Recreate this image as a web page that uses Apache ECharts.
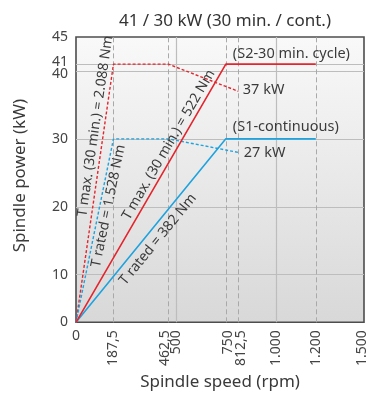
<!DOCTYPE html>
<html><head><meta charset="utf-8">
<script src="https://cdn.jsdelivr.net/npm/echarts@6/dist/echarts.min.js"></script>
<style>html,body{margin:0;padding:0;background:#fff}#c{width:387px;height:396px}</style>
</head><body><div id="c"></div>
<script>
// ---------- data ----------
const chartTitle = '41 / 30 kW (30 min. / cont.)';
const xName = 'Spindle speed (rpm)';
const yName = 'Spindle power (kW)';
const xTicks = [0, 187.5, 462.5, 500, 750, 812.5, 1000, 1200, 1500];
const xTickLabels = ['0', '187,5', '462,5', '500', '750', '812,5', '1.000', '1.200', '1.500'];
const xSolidGrid = [500, 1000];
const xDashedGrid = [187.5, 462.5, 750, 812.5, 1200];
const yTicks = [0, 10, 20, 30, 40, 41, 45];
const yTickLabels = ['0', '10', '20', '30', '40', '41', '45'];
const yGrid = [10, 20, 30, 40, 41];
const s2Speed = [0, 750, 1200];
const s2Power = [0, 41, 41];
const s1Speed = [0, 750, 1200];
const s1Power = [0, 30, 30];
const tmaxSpeed = [0, 187.5, 462.5, 812.5];
const tmaxPower = [0, 41, 41, 37];
const tratedSpeed = [0, 187.5, 462.5, 812.5];
const tratedPower = [0, 30, 30, 28];

// ---------- style / layout ----------
const RED = '#e4252d', BLUE = '#1ea3de', TXT = '#3b3b3b';
const FONT = '"Noto Sans", sans-serif';
// the original's axes are schematic (compressed 0-10 kW band, compressed 1200-1500 rpm band)
function xMap(v) { return v <= 1200 ? v : 1200 + (v - 1200) * 0.805; }
function yMap(v) { return v <= 10 ? v * 0.702 : 7.02 + (v - 10); }
function pts(xs, ys) { return xs.map((x, i) => [xMap(x), yMap(ys[i])]); }
function idxOf(val, ticks, map) {
  let best = 0, d = Infinity;
  ticks.forEach((t, i) => { const dd = Math.abs(map(t) - val); if (dd < d) { d = dd; best = i; } });
  return best;
}
const xShift = { '462,5': -3, '750': 2, '812,5': 3, '1.500': -2 };
const yShift = { '41': -2, '40': 3 };
const base = { fontFamily: FONT, fontSize: 14, color: '#444' };
const xRich = {
  n: Object.assign({}, base),
  m3: Object.assign({ padding: [0, 0, 6, 0] }, base),
  m2: Object.assign({ padding: [0, 0, 4, 0] }, base),
  p2: Object.assign({ padding: [4, 0, 0, 0] }, base),
  p3: Object.assign({ padding: [6, 0, 0, 0] }, base)
};
function xRichKey(s) { if (!s) return 'n'; return (s < 0 ? 'm' : 'p') + Math.abs(s); }
const yRich = {
  n: Object.assign({}, base),
  up: Object.assign({ padding: [0, 0, 4, 0] }, base),
  dn: Object.assign({ padding: [6, 0, 0, 0] }, base)
};

const chart = echarts.init(document.getElementById('c'), null, { renderer: 'canvas' });
const gridLines = []
  .concat(yGrid.map(v => ({ yAxis: yMap(v), lineStyle: { color: '#bdbdbd', type: 'solid', width: 1.2 } })))
  .concat(xSolidGrid.map(v => ({ xAxis: xMap(v), lineStyle: { color: '#bdbdbd', type: 'solid', width: 1.2 } })))
  .concat(xDashedGrid.map(v => ({ xAxis: xMap(v), lineStyle: { color: '#a9a9a9', type: [5, 3], width: 1 } })));

chart.setOption({
  animation: false,
  textStyle: { fontFamily: FONT },
  title: {
    text: chartTitle, left: 220, top: 8, textAlign: 'center',
    textStyle: { fontFamily: FONT, fontSize: 17, fontWeight: 'normal', color: '#333' }
  },
  grid: {
    left: 76, right: 23, top: 37, bottom: 72, show: true,
    borderColor: '#4d4d4d', borderWidth: 1.6,
    backgroundColor: new echarts.graphic.LinearGradient(0, 0, 0, 1, [
      { offset: 0, color: '#f9f9f9' }, { offset: 1, color: '#d8d8d8' }
    ])
  },
  xAxis: [{
    type: 'value', min: 0, max: xMap(1500), gridIndex: 0, position: 'bottom',
    name: xName, nameLocation: 'middle', nameGap: 50,
    nameTextStyle: { fontFamily: FONT, fontSize: 17, color: '#3a3a3a' },
    axisLine: { show: false }, axisTick: { show: false }, splitLine: { show: false },
    axisLabel: {
      rotate: 90, margin: 8,
      customValues: xTicks.filter(v => v > 0).map(xMap),
      formatter: v => { const s = xTickLabels[idxOf(v, xTicks, xMap)]; return '{' + xRichKey(xShift[s]) + '|' + s + '}'; },
      rich: xRich
    }
  }, {
    type: 'value', min: 0, max: xMap(1500), gridIndex: 0, position: 'bottom', offset: 0,
    axisLine: { show: false }, axisTick: { show: false }, splitLine: { show: false },
    axisLabel: {
      margin: 7, customValues: [xMap(xTicks[0])],
      formatter: () => xTickLabels[0], fontFamily: FONT, fontSize: 14, color: '#444'
    }
  }],
  yAxis: {
    type: 'value', min: 0, max: yMap(45),
    name: yName, nameLocation: 'middle', nameGap: 47,
    nameTextStyle: { fontFamily: FONT, fontSize: 17, color: '#3a3a3a', padding: [0, 0, 0, 8] },
    axisLine: { show: false }, axisTick: { show: false }, splitLine: { show: false },
    axisLabel: {
      margin: 8,
      customValues: yTicks.map(yMap),
      formatter: v => { const s = yTickLabels[idxOf(v, yTicks, yMap)]; const k = yShift[s] ? (yShift[s] < 0 ? 'up' : 'dn') : 'n'; return '{' + k + '|' + s + '}'; },
      rich: yRich
    }
  },
  series: [
    { type: 'line', data: [], silent: true, z: 1,
      markLine: { z: 1, symbol: ['none', 'none'], silent: true, animation: false, label: { show: false }, data: gridLines } },
    { type: 'line', data: pts(tmaxSpeed, tmaxPower), symbol: 'none', z: 6,
      lineStyle: { color: RED, width: 1.4, type: [3, 2] } },
    { type: 'line', data: pts(tratedSpeed, tratedPower), symbol: 'none', z: 6,
      lineStyle: { color: BLUE, width: 1.4, type: [3, 2] } },
    { type: 'line', data: pts(s1Speed, s1Power), symbol: 'none', z: 7,
      lineStyle: { color: BLUE, width: 1.6 } },
    { type: 'line', data: pts(s2Speed, s2Power), symbol: 'none', z: 7,
      lineStyle: { color: RED, width: 1.6 } }
  ]
});

const px = (x, y) => chart.convertToPixel({ gridIndex: 0 }, [xMap(x), yMap(y)]);
function along(x0, y0, x1, y1, t, perp, text) {
  const a = px(x0, y0), b = px(x1, y1);
  const dx = b[0] - a[0], dy = b[1] - a[1], L = Math.hypot(dx, dy);
  const nx = dy / L, ny = -dx / L;
  return { type: 'text', z: 10, x: a[0] + t * dx + nx * perp, y: a[1] + t * dy + ny * perp,
    rotation: Math.atan2(-dy, dx),
    style: { text, fill: TXT, fontFamily: FONT, fontSize: 14, align: 'center', verticalAlign: 'middle' } };
}
function note(x, y, dx, dy, text) {
  const p = px(x, y);
  return { type: 'text', z: 10, x: p[0] + dx, y: p[1] + dy,
    style: { text, fill: TXT, fontFamily: FONT, fontSize: 14.5, align: 'left', verticalAlign: 'middle' } };
}
chart.setOption({
  graphic: [
    along(tmaxSpeed[0], tmaxPower[0], tmaxSpeed[1], tmaxPower[1], 0.755, 9, 'T max. (30 min.) = 2.088 Nm'),
    along(tratedSpeed[0], tratedPower[0], tratedSpeed[1], tratedPower[1], 0.643, -8.5, 'T rated = 1.528 Nm'),
    along(s2Speed[0], s2Power[0], s2Speed[1], s2Power[1], 0.67, 9, 'T max. (30 min.) = 522 Nm'),
    along(s1Speed[0], s1Power[0], s1Speed[1], s1Power[1], 0.49, -11, 'T rated = 382 Nm'),
    note(s2Speed[1], s2Power[1], 7, -10, '(S2-30 min. cycle)'),
    note(s1Speed[1], s1Power[1], 7, -11.7, '(S1-continuous)'),
    note(tmaxSpeed[3], tmaxPower[3], 4.5, -1, '37 kW'),
    note(tratedSpeed[3], tratedPower[3], 5.5, 0.7, '27 kW')
  ]
});
</script></body></html>
